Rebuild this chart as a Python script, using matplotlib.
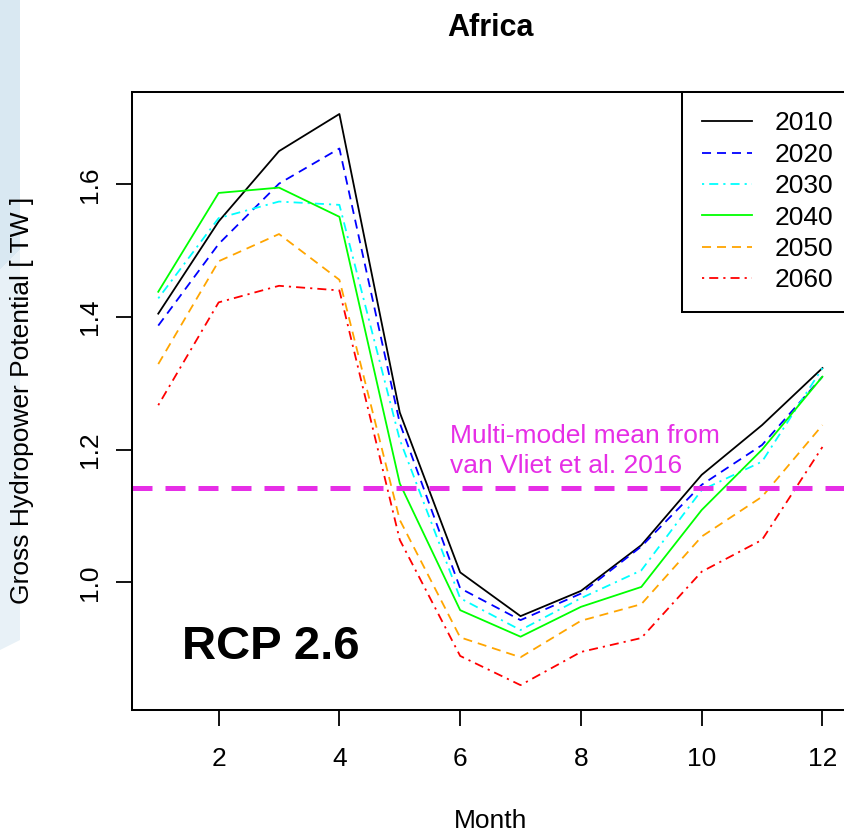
import matplotlib
matplotlib.use("Agg")
import matplotlib.pyplot as plt
from matplotlib.patches import Polygon

plt.rcParams['font.family'] = ['Liberation Sans', 'DejaVu Sans']

# -------------------- data --------------------
months = [1, 2, 3, 4, 5, 6, 7, 8, 9, 10, 11, 12]
years = ["2010", "2020", "2030", "2040", "2050", "2060"]

gp_2010 = [1.405, 1.544, 1.650, 1.706, 1.256, 1.015, 0.949, 0.987, 1.056, 1.162, 1.237, 1.323]
gp_2020 = [1.387, 1.510, 1.601, 1.654, 1.240, 0.991, 0.943, 0.983, 1.054, 1.147, 1.207, 1.310]
gp_2030 = [1.428, 1.549, 1.574, 1.569, 1.215, 0.976, 0.928, 0.976, 1.018, 1.139, 1.182, 1.323]
gp_2040 = [1.438, 1.587, 1.595, 1.551, 1.149, 0.958, 0.918, 0.963, 0.993, 1.109, 1.200, 1.310]
gp_2050 = [1.329, 1.484, 1.525, 1.456, 1.094, 0.917, 0.887, 0.942, 0.967, 1.069, 1.129, 1.237]
gp_2060 = [1.267, 1.422, 1.447, 1.440, 1.064, 0.889, 0.845, 0.895, 0.916, 1.016, 1.064, 1.204]

vliet_mean = 1.1417

series = [gp_2010, gp_2020, gp_2030, gp_2040, gp_2050, gp_2060]
colors = ["black", "#0000FF", "#00FFFF", "#00FF00", "#FFA500", "#FF0000"]
dash_solid = None
dash_dash = (5.0, 3.3)
dash_dotdash = (1.2, 2.8, 5.0, 2.8)
styles = [dash_solid, dash_dash, dash_dotdash, dash_solid, dash_dash, dash_dotdash]
magenta = "#E62EE6"

# -------------------- figure --------------------
W, H = 845, 833
fig = plt.figure(figsize=(W / 100, H / 100), dpi=100)

# pale slide decoration on the left edge
def px(x, y):
    return (x / W, 1 - y / H)

fig.add_artist(Polygon([px(0, 0), px(20, 0), px(20, 250), px(0, 270)],
                       closed=True, transform=fig.transFigure,
                       facecolor="#d9e8f2", edgecolor="none", zorder=0))
fig.add_artist(Polygon([px(0, 270), px(20, 250), px(20, 640), px(0, 650)],
                       closed=True, transform=fig.transFigure,
                       facecolor="#e8f1f7", edgecolor="none", zorder=0))

ax = fig.add_axes([131.7 / W, (H - 710) / H, (849 - 131.7) / W, (710 - 91.7) / H])
ax.patch.set_alpha(0)

for yr, vals, c, ds in zip(years, series, colors, styles):
    line, = ax.plot(months, vals, color=c, lw=1.3, label=yr)
    if ds is not None:
        line.set_dashes(ds)

mline = ax.axhline(vliet_mean, color=magenta, lw=3.6)
mline.set_dashes((4.0, 2.6))
mline.set_dash_capstyle("butt")

ax.text(5.836, 1.198, "Multi-model mean from\nvan Vliet et al. 2016", color=magenta,
        fontsize=19, ha="left", va="center", linespacing=1.3)
ax.text(1.39, 0.9025, "RCP 2.6", fontsize=34, fontweight="bold", ha="left", va="center")

ax.set_xlim(0.56, 12.44)
ax.set_ylim(0.8075, 1.7396)
ax.set_xticks([2, 4, 6, 8, 10, 12])
ax.set_yticks([1.0, 1.2, 1.4, 1.6])
ax.set_yticklabels(["1.0", "1.2", "1.4", "1.6"], rotation=90, va="center")

for s in ax.spines.values():
    s.set_linewidth(1.45)
ax.tick_params(axis="both", length=11.5, width=1.3, labelsize=19)
ax.tick_params(axis="x", pad=15)
ax.tick_params(axis="y", pad=10)

ax.set_title("Africa", fontsize=22, fontweight="bold", pad=40)
ax.set_xlabel("Month", fontsize=19, va="center")
ax.xaxis.set_label_coords(0.5, -0.18)
ax.set_ylabel("Gross Hydropower Potential [ TW ]", fontsize=19, va="center")
ax.yaxis.set_label_coords(-0.153, 0.5)

leg = ax.legend(loc="upper right", bbox_to_anchor=(1 + 4 / 717, 1), borderaxespad=0,
                fontsize=19, handlelength=1.9, handletextpad=0.85,
                labelspacing=0.28, borderpad=0.75, fancybox=False, framealpha=1)
leg.get_frame().set_edgecolor("black")
leg.get_frame().set_linewidth(1.45)

fig.savefig("out.png", dpi=100)
